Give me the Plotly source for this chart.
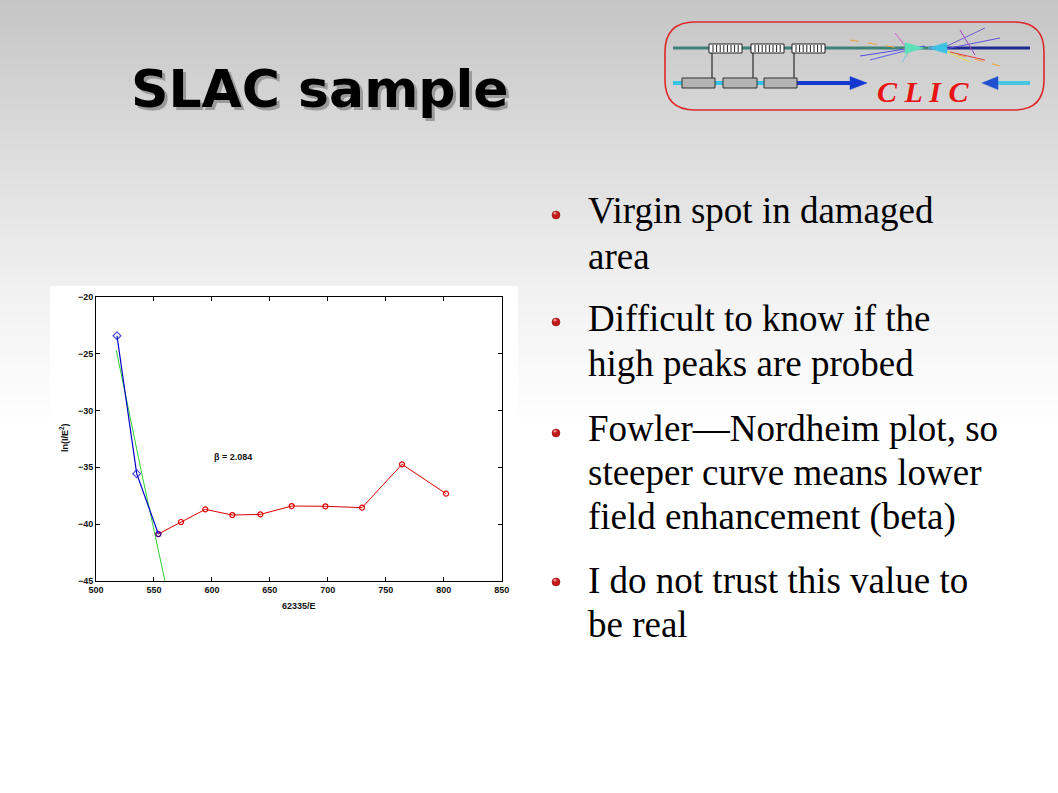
import plotly.graph_objects as go

W, H = 1058, 793

# ---------------- data ----------------
blue_x = [518.1, 535.1, 553.8]
blue_y = [-23.43, -35.56, -40.87]
red_x = [553.8, 573.3, 594.3, 617.6, 641.8, 668.8, 697.9, 729.5, 764.0, 802.0]
red_y = [-40.87, -39.81, -38.70, -39.20, -39.14, -38.41, -38.43, -38.55, -34.74, -37.32]
fit_x = [517.5, 539.4, 559.5]
fit_y = [-24.7, -35.5, -45.0]
x_ticks = [500, 550, 600, 650, 700, 750, 800, 850]
y_ticks = [-45, -40, -35, -30, -25, -20]
beta_label = "β = 2.084"
beta_pos = (600, -34.1)
x_title = "62335/E"
y_title = "ln(I/E<sup>2</sup>)"
slide_title = "SLAC sample"
bullets = [
    ["Virgin spot in damaged", "area"],
    ["Difficult to know if the", "high peaks are probed"],
    ["Fowler—Nordheim plot, so", "steeper curve means lower", "field enhancement (beta)"],
    ["I do not trust this value to", "be real"],
]


def px(x):
    return x / W


def py(y):
    return 1 - y / H


shapes = []
annotations = []

# ---------------- background gradient ----------------
stops = [(0, 197), (150, 220), (300, 242), (430, 255)]
n = 110
top_px = 0
bot_px = 440
for i in range(n):
    y0 = top_px + (bot_px - top_px) * i / n
    y1 = top_px + (bot_px - top_px) * (i + 1) / n + 0.6
    ym = (y0 + y1) / 2
    v = 255
    for (a, va), (b, vb) in zip(stops[:-1], stops[1:]):
        if a <= ym <= b:
            v = va + (vb - va) * (ym - a) / (b - a)
    v = int(round(v))
    shapes.append(dict(type="rect", xref="paper", yref="paper", layer="below",
                       x0=0, x1=1, y0=py(y1), y1=py(y0),
                       fillcolor=f"rgb({v},{v},{v})", line=dict(width=0)))

# white panel behind the chart
shapes.append(dict(type="rect", xref="paper", yref="paper", layer="below",
                   x0=px(50), x1=px(518), y0=py(614), y1=py(286),
                   fillcolor="white", line=dict(width=0)))

# ---------------- title ----------------
for dx, dy, col in [(2.5, 2.5, "#9a9a9a"), (0, 0, "#000000")]:
    annotations.append(dict(text=f"<b>{slide_title}</b>", xref="paper", yref="paper",
                            x=px(320 + dx), y=py(89 + dy), xanchor="center", yanchor="middle",
                            showarrow=False,
                            font=dict(family="DejaVu Sans", size=52, color=col)))

# ---------------- bullets ----------------
line_centers = [[211, 256], [318, 363], [428, 472, 517], [580, 624]]
bullet_y = [215, 322, 433, 582]
for lines, centers, by in zip(bullets, line_centers, bullet_y):
    shapes.append(dict(type="circle", xref="paper", yref="paper", layer="above",
                       x0=px(552), x1=px(560), y0=py(by + 4), y1=py(by - 4),
                       fillcolor="#c41a1a", line=dict(color="#8a0d0d", width=0.5)))
    shapes.append(dict(type="circle", xref="paper", yref="paper", layer="above",
                       x0=px(553.5), x1=px(556.5), y0=py(by - 0.5), y1=py(by - 3.2),
                       fillcolor="#f08a8a", line=dict(width=0)))
    for t, c in zip(lines, centers):
        annotations.append(dict(text=t, xref="paper", yref="paper",
                                x=px(586), y=py(c), xanchor="left", yanchor="middle",
                                showarrow=False,
                                font=dict(family="Liberation Serif", size=37, color="#000000")))

# ---------------- CLIC logo ----------------
def rrect(x0, y0, x1, y1, r):
    rx, ry = r / W, r / H
    X0, X1, Y0, Y1 = px(x0), px(x1), py(y0), py(y1)
    return (f"M {X0+rx},{Y0} L {X1-rx},{Y0} Q {X1},{Y0} {X1},{Y0-ry} "
            f"L {X1},{Y1+ry} Q {X1},{Y1} {X1-rx},{Y1} L {X0+rx},{Y1} "
            f"Q {X0},{Y1} {X0},{Y1+ry} L {X0},{Y0-ry} Q {X0},{Y0} {X0+rx},{Y0} Z")


def seg(x0, y0, x1, y1, color, width=1, dash="solid"):
    shapes.append(dict(type="line", xref="paper", yref="paper", layer="above",
                       x0=px(x0), y0=py(y0), x1=px(x1), y1=py(y1),
                       line=dict(color=color, width=width, dash=dash)))


def tri(pts, color):
    d = "M " + " L ".join(f"{px(a)},{py(b)}" for a, b in pts) + " Z"
    shapes.append(dict(type="path", xref="paper", yref="paper", layer="above",
                       path=d, fillcolor=color, line=dict(color=color, width=0.5)))


def box(x0, y0, x1, y1, fill, line="#202020", lw=1):
    shapes.append(dict(type="rect", xref="paper", yref="paper", layer="above",
                       x0=px(x0), x1=px(x1), y0=py(y1), y1=py(y0),
                       fillcolor=fill, line=dict(color=line, width=lw)))


shapes.append(dict(type="path", xref="paper", yref="paper", layer="above",
                   path=rrect(665, 22, 1044, 110, 30), fillcolor="rgba(0,0,0,0)",
                   line=dict(color="#e02828", width=1.6)))

seg(673, 48, 930, 48, "#3f8276", 3)
seg(930, 48, 1030, 48, "#1c2a8e", 3)
for cx in [712, 753, 794]:
    seg(cx, 53, cx, 79, "#6c6c6c", 2)
for bx0, bx1 in [(709, 742), (751, 784), (792, 825)]:
    box(bx0, 44, bx1, 53, "white")
    k = bx0 + 4
    while k < bx1 - 2:
        seg(k, 45, k, 52, "#202020", 1)
        k += 3.6
seg(673, 83, 800, 83, "#34c4e6", 4)
seg(797, 83, 853, 83, "#1438d0", 4)
tri([(850, 76.5), (867, 83), (850, 89.5)], "#1438d0")
for bx0, bx1 in [(682, 715), (723, 757), (764, 797)]:
    box(bx0, 78, bx1, 88, "#b4b4b4", "#303030", 1)
seg(995, 83, 1030, 83, "#48c4e4", 4)
tri([(998, 76.5), (982, 83), (998, 89.5)], "#2050d0")
seg(850, 40, 905, 49, "#f0a040", 1, "dash")
seg(860, 56, 925, 46, "#5050e0", 1)
seg(870, 60, 920, 47, "#6060f0", 1)
seg(895, 33, 910, 52, "#d060d0", 1)
seg(902, 62, 912, 47, "#60d0d0", 1)
seg(945, 49, 1000, 38, "#6050e0", 1)
seg(945, 47, 985, 28, "#7060d0", 1)
seg(940, 50, 1000, 66, "#f0a040", 1, "dash")
seg(950, 52, 985, 60, "#e04040", 1)
seg(945, 51, 970, 62, "#e0e040", 1)
seg(960, 30, 975, 55, "#a040c0", 1)
tri([(905, 42.5), (924, 48), (905, 53.5)], "#5ee0b8")
tri([(947, 42.5), (928, 48), (947, 53.5)], "#3cc0e4")
annotations.append(dict(text="<b><i>C L I C</i></b>", xref="paper", yref="paper",
                        x=px(923), y=py(91), xanchor="center", yanchor="middle",
                        showarrow=False,
                        font=dict(family="Liberation Serif", size=30, color="#e81414")))

# ---------------- chart ----------------
fig = go.Figure()
fig.add_trace(go.Scatter(x=fit_x, y=fit_y, mode="lines",
                         line=dict(color="#30d030", width=1), hoverinfo="skip"))
fig.add_trace(go.Scatter(x=red_x, y=red_y, mode="lines+markers",
                         line=dict(color="#dd0000", width=1),
                         marker=dict(symbol="circle-open", size=5, color="#dd0000",
                                     line=dict(width=1.2))))
fig.add_trace(go.Scatter(x=blue_x, y=blue_y, mode="lines+markers",
                         line=dict(color="#0000c8", width=1.2),
                         marker=dict(symbol=["diamond-open", "diamond-open", "circle-open"],
                                     size=[6, 6, 5], color="#0000c8",
                                     line=dict(width=1.2))))

annotations.append(dict(text=f"<b>{beta_label}</b>", xref="x", yref="y",
                        x=beta_pos[0], y=beta_pos[1], xanchor="left", yanchor="middle",
                        showarrow=False,
                        font=dict(family="Liberation Sans", size=9, color="#111111")))
annotations.append(dict(text=f"<b>{x_title}</b>", xref="paper", yref="paper",
                        x=px(299), y=py(606), xanchor="center", yanchor="middle",
                        showarrow=False,
                        font=dict(family="Liberation Sans", size=9, color="#111111")))
annotations.append(dict(text=f"<b>{y_title}</b>", xref="paper", yref="paper",
                        x=px(64), y=py(438), xanchor="center", yanchor="middle",
                        showarrow=False, textangle=-90,
                        font=dict(family="Liberation Sans", size=9, color="#111111")))

axis_common = dict(showline=True, linecolor="black", linewidth=1, mirror="ticks",
                   ticks="inside", ticklen=4, tickcolor="black", tickwidth=1,
                   showgrid=False, zeroline=False, automargin=False,
                   tickfont=dict(family="Liberation Sans", size=9, color="#111111", weight="bold"))

fig.update_layout(
    template="none",
    width=W, height=H,
    margin=dict(l=0, r=0, t=0, b=0, pad=0, autoexpand=False),
    paper_bgcolor="white",
    plot_bgcolor="white",
    showlegend=False,
    xaxis=dict(domain=[px(96), px(501.7)], range=[500, 850], tickvals=x_ticks, **axis_common),
    yaxis=dict(domain=[py(581), py(296.7)], range=[-45, -20], tickvals=y_ticks, **axis_common),
    shapes=shapes,
    annotations=annotations,
)

post = ("document.documentElement.style.margin='0';"
        "document.body.style.margin='0';document.body.style.padding='0';"
        "var d=document.getElementById('{plot_id}');"
        "d.style.position='absolute';d.style.left='0px';d.style.top='0px';")
fig.write_html("out.html", config={"displayModeBar": False}, post_script=post)
